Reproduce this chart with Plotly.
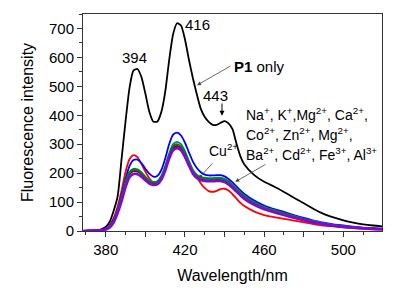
import plotly.graph_objects as go

wl = [368, 372, 376, 378, 380, 382, 384, 386, 388, 390, 392, 394, 396, 398, 400, 402, 404, 406,
      408, 410, 412, 414, 416, 418, 420, 422, 424, 426, 428, 430, 432, 434, 436, 438, 440, 442,
      444, 446, 448, 450, 455, 460, 465, 470, 475, 480, 485, 490, 495, 500, 505, 510, 515, 520]

p1_only = [0, 1, 3, 7, 14, 32, 70, 120, 250, 380, 495, 555, 560, 532, 475, 412, 378, 378,
           410, 480, 590, 680, 718, 710, 662, 592, 528, 472, 422, 394, 377, 367, 367, 374, 380, 372,
           352, 302, 258, 230, 193, 170, 154, 135, 115, 96, 76, 59, 47, 37, 29, 23, 19, 16]

red = [0, 1, 2, 4, 8, 20, 45, 85, 140, 205, 248, 262, 255, 232, 205, 182, 166, 164,
       178, 212, 255, 285, 292, 282, 255, 232, 208, 186, 164, 148, 138, 135, 139, 145, 146, 140,
       127, 112, 97, 86, 67, 55, 48, 42, 36, 30, 24, 19, 16, 13, 10, 8, 6, 5]

blue = [0, 1, 2, 4, 8, 18, 40, 75, 125, 180, 225, 245, 247, 235, 215, 198, 188, 190,
        210, 250, 300, 333, 340, 330, 305, 272, 240, 218, 203, 195, 192, 192, 193, 193, 189, 180,
        168, 154, 140, 128, 105, 88, 76, 66, 55, 45, 36, 29, 23, 19, 15, 12, 10, 8]

teal = [0, 1, 2, 3, 7, 16, 36, 72, 118, 170, 205, 215, 213, 203, 188, 175, 170, 172,
        190, 224, 268, 300, 308, 300, 276, 242, 212, 195, 186, 184, 183, 183, 184, 184, 180, 172,
        160, 147, 134, 122, 99, 82, 72, 62, 52, 42, 34, 27, 21, 17, 14, 11, 9, 8]

green = [0, 1, 2, 3, 6, 15, 35, 70, 114, 166, 201, 212, 210, 200, 185, 172, 167, 169,
         186, 219, 262, 293, 300, 292, 268, 236, 206, 190, 182, 180, 179, 179, 180, 180, 176, 168,
         156, 143, 130, 118, 96, 80, 70, 60, 50, 40, 32, 25, 20, 16, 13, 10, 8, 7]

darkred = [0, 1, 2, 3, 6, 14, 33, 67, 110, 162, 196, 207, 205, 196, 182, 169, 164, 166,
           183, 215, 257, 287, 294, 286, 262, 231, 202, 187, 179, 177, 176, 176, 177, 177, 173, 165,
           153, 140, 127, 115, 94, 78, 68, 58, 48, 39, 31, 24, 19, 15, 12, 10, 8, 6]

purple = [0, 1, 2, 3, 5, 12, 30, 62, 103, 152, 186, 197, 196, 188, 175, 164, 159, 161,
          177, 208, 250, 279, 286, 279, 256, 226, 198, 183, 175, 173, 172, 172, 173, 173, 169, 161,
          149, 136, 123, 111, 90, 75, 65, 55, 46, 37, 29, 23, 18, 14, 11, 9, 7, 6]

series = [
    ("P1 only", p1_only, "#000000", 1.8),
    ("Red", red, "#ff0000", 1.8),
    ("Blue", blue, "#0000ff", 1.8),
    ("Teal", teal, "#008080", 1.8),
    ("Dark red", darkred, "#8b0000", 1.8),
    ("Green", green, "#008000", 1.8),
    ("Purple", purple, "#8a00e6", 2.6),
]

x_ticks = [380, 400, 420, 440, 460, 480, 500, 520]
x_ticktext = ["380", "", "420", "", "460", "", "500", ""]
y_ticks = [0, 100, 200, 300, 400, 500, 600, 700]

FONT = "Liberation Sans, Arial, sans-serif"

fig = go.Figure()
for name, ys, color, w in series:
    fig.add_trace(go.Scatter(x=wl, y=ys, mode="lines", name=name,
                             line=dict(color=color, width=w, shape="spline", smoothing=0.6)))

ann = []
ann.append(dict(x=394.6, y=601, text="394", showarrow=False, font=dict(size=15)))
ann.append(dict(x=426.2, y=712, text="416", showarrow=False, font=dict(size=15)))
ann.append(dict(x=435.3, y=470, text="443", showarrow=False, font=dict(size=15)))
ann.append(dict(x=443.6, y=567, text="<b>P1</b> only", showarrow=False, xanchor="left",
                font=dict(size=15)))
ann.append(dict(x=439.3, y=279, text="Cu<sup>2+</sup>", showarrow=False, font=dict(size=14)))
ann.append(dict(x=450.0, y=404, text="Na<sup>+</sup>, K<sup>+</sup>,Mg<sup>2+</sup>, Ca<sup>2+</sup>,",
                showarrow=False, xanchor="left", font=dict(size=14)))
ann.append(dict(x=450.0, y=335, text="Co<sup>2+</sup>, Zn<sup>2+</sup>, Mg<sup>2+</sup>,",
                showarrow=False, xanchor="left", font=dict(size=14)))
ann.append(dict(x=450.0, y=266, text="Ba<sup>2+</sup>, Cd<sup>2+</sup>, Fe<sup>3+</sup>, Al<sup>3+</sup>",
                showarrow=False, xanchor="left", font=dict(size=14)))
for (hx, hy, tx, ty, col, wid) in [
    (426.1, 504, 443.7, 573, "#444444", 0.8),
    (438.7, 398, 438.7, 446, "#000000", 1.0),
    (426.9, 181, 434.5, 239, "#444444", 0.8),
    (445.4, 170, 461.4, 233, "#444444", 0.8),
]:
    ann.append(dict(x=hx, y=hy, ax=tx, ay=ty, axref="x", ayref="y", xref="x", yref="y",
                    text="", showarrow=True, arrowhead=2, arrowsize=1.0, arrowwidth=wid,
                    arrowcolor=col))

fig.update_layout(
    width=390, height=281,
    margin=dict(l=75, r=16, t=6, b=58, autoexpand=False),
    paper_bgcolor="white", plot_bgcolor="white",
    showlegend=False,
    font=dict(family=FONT, color="#000000", size=15),
    annotations=ann,
)
fig.update_xaxes(
    range=[368.5, 519.5], showgrid=False, zeroline=False, automargin=False,
    showline=True, linecolor="#333333", linewidth=1, mirror=True,
    tickmode="array", tickvals=x_ticks, ticktext=x_ticktext,
    ticks="outside", ticklen=5, tickcolor="#333333", tickwidth=1,
    minor=dict(dtick=10, tick0=370, ticks="outside", ticklen=3, tickcolor="#333333"),
    tickfont=dict(size=15),
    title=dict(text="Wavelength/nm", font=dict(size=16), standoff=12),
)
fig.update_yaxes(
    range=[0, 750], showgrid=False, zeroline=False, automargin=False,
    showline=True, linecolor="#333333", linewidth=1, mirror=True,
    tickmode="array", tickvals=y_ticks,
    ticks="outside", ticklen=5, tickcolor="#333333", tickwidth=1,
    minor=dict(dtick=50, tick0=0, ticks="outside", ticklen=3, tickcolor="#333333"),
    tickfont=dict(size=15),
    title=dict(text="Fluorescence intensity", font=dict(size=16), standoff=11),
)

fig.write_html("out.html")
